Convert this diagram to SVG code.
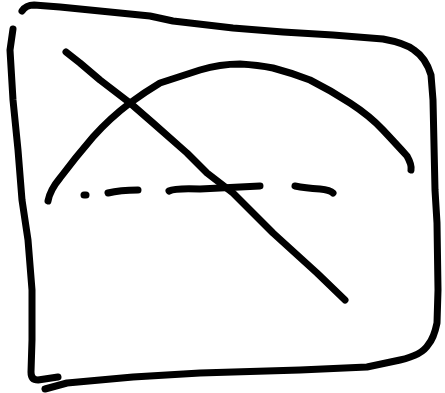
<svg xmlns="http://www.w3.org/2000/svg" width="445" height="393" viewBox="0 0 445 393">
<style>
.s{fill:none;stroke:#000;stroke-width:7;stroke-linecap:round;stroke-linejoin:round}
</style>
<rect width="445" height="393" fill="#fff"/>
<g id="frame">
<path class="s" d="M22,11 Q26,5 34,5 L60,7 L120,13 L150,16 L173,21 L233,28 L283,32 L333,35 L383,39 Q405,43 414,50 Q426,58 431,75 L433,100 L435,190 L437,223 L438,290 L437,323 Q434,338 428,345 Q422,355 400,360 L367,367 L300,370 L200,373 L133,377 L67,383 L45,389"/>
<path class="s" d="M13,29 L10,50 L13,100 L18,150 L22,200 L28,240 L32,290 L32,340 L31,372 Q31,380 38,380 L58,377"/>
</g>
<g id="diagonal">
<path class="s" d="M66,52 L80,63 L100,80 L130,103 L153,123 L187,153 L207,173 L233,193 L273,233 L317,273 L345,300"/>
</g>
<g id="arc">
<path class="s" d="M48,201 Q50,190 60,178 Q75,158 93,137 Q110,118 130,103 Q145,92 160,83 L200,70 Q220,64 240,64 Q258,65 273,68 Q292,73 310,80 Q330,90 350,103 Q370,116 383,130 Q398,146 407,156 Q412,165 411,170"/>
</g>
<g id="dashed">
<path class="s" d="M84,195 L86,195"/>
<path class="s" d="M108,193 Q120,190 138,190"/>
<path class="s" d="M169,191 Q175,188 200,189 L260,186"/>
<path class="s" d="M295,186 Q305,188 320,189 Q330,190 333,193"/>
</g>
</svg>
